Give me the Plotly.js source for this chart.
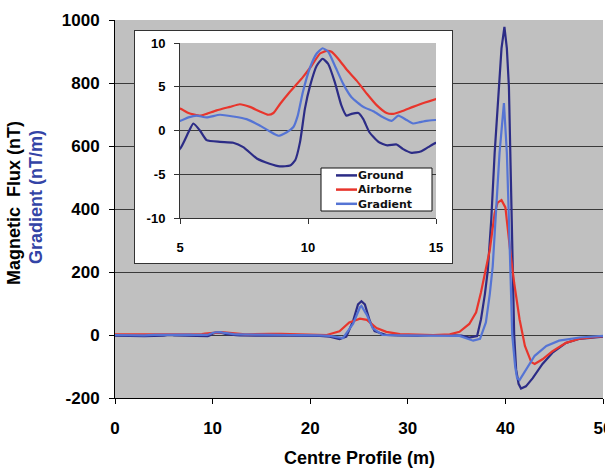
<!DOCTYPE html>
<html>
<head>
<meta charset="utf-8">
<script src="https://cdn.plot.ly/plotly-3.0.1.min.js"></script>
<style>
  html, body { margin: 0; padding: 0; background: #ffffff; }
  #chart { width: 605px; height: 469px; }
</style>
</head>
<body>
<div id="chart"></div>
<script>
// ---- Data ----
var seriesNames = ["Ground", "Airborne", "Gradient"];

var groundX = [0,1,2,3,4,4.5,5,5.33,5.52,5.78,6.04,6.56,7.08,7.47,8.0,8.5,8.9,9.3,9.5,9.69,9.88,10.08,10.34,10.57,10.79,11.05,11.3,11.5,11.7,11.97,12.16,12.4,12.75,13.1,13.46,13.7,14.05,14.4,14.7,15,16,17,18,19,20,21,22,23,23.7,24.4,24.9,25.25,25.6,26.1,26.6,27.8,29,31,33,34.5,35.5,36.3,37.1,37.5,37.9,38.2,38.55,38.9,39.34,39.6,39.9,40.15,40.36,40.5,40.62,40.75,40.9,41.1,41.35,41.6,42.1,42.8,43.8,44.8,46.2,47.6,50];
var groundY = [-2,-3,-2,-4,-3,-3,-2.1,-0.2,0.8,0,-1.1,-1.3,-1.4,-1.9,-3.2,-3.8,-4.1,-4.0,-3.4,-1.3,2.5,5.1,7.4,8.2,7.6,5.5,2.9,1.7,1.9,2.0,1.3,-0.2,-1.3,-1.7,-1.6,-2.1,-2.55,-2.4,-1.9,-1.4,-1.5,-2,-2.5,-2,-2,-3,-5,-13,-5,45,97,107,97,45,12,0,-1,-2,0,-1,-2,-8,-3,50,130,206,366,578,788,910,978,910,788,578,366,218,0,-110,-155,-170,-163,-137,-92,-57,-25,-12,-5];

var airX = [0,1,2,3,4,5,5.33,5.78,6.04,6.43,6.95,7.34,7.73,8.1,8.45,8.65,8.9,9.23,9.5,9.8,10.14,10.47,10.73,10.92,11.18,11.5,11.9,12.3,12.68,13.07,13.33,13.66,14.1,14.57,15,16,17,18,19,20,21,21.7,23,24,25.1,25.8,26.8,27.8,29.2,32.6,34.3,35.3,36.3,37.0,37.5,37.9,38.4,38.9,39.2,39.6,40.0,40.5,40.9,41.45,42.0,42.65,43.0,43.8,44.8,46.2,47.6,50];
var airY = [2,2,2.5,2,2.5,2.5,2.0,1.7,1.9,2.3,2.7,3.0,2.7,2.2,1.8,2.0,3.0,4.2,5.1,6.1,7.4,8.8,9.1,9.0,8.2,7.0,5.7,4.2,2.9,2.0,1.9,2.2,2.7,3.2,3.6,4,3.5,3,2.5,2,1,0,12,40,52,48,22,10,3,0,2,10,35,72,136,200,270,387,420,428,405,265,165,50,-35,-86,-92,-77,-52,-25,-12,-4];

var gradX = [0,1,2,3,4,5,5.33,5.65,6.04,6.56,7.08,7.6,8.1,8.5,8.84,9.17,9.43,9.6,9.8,10.08,10.34,10.57,10.79,11.05,11.38,11.7,12.16,12.55,12.94,13.27,13.53,13.85,14.1,14.37,14.63,15,16,17,18,19,20,21,22,23.35,24.4,25.1,25.25,25.8,26.4,27.4,30,33,35.3,36.7,37.4,38.0,38.4,38.7,39.0,39.4,39.85,40.15,40.36,40.5,40.7,41.0,41.2,41.45,42.1,43.0,44.2,45.5,47.6,50];
var gradY = [0,-1,0,-1,0.5,1.1,1.5,1.7,1.5,1.8,1.6,1.3,0.6,-0.1,-0.6,-0.2,0.4,1.7,4.4,7.2,8.8,9.4,9.0,7.4,5.3,3.8,2.7,2.2,1.5,1.1,1.7,1.2,0.8,0.95,1.1,1.2,0.5,0,0,-0.5,-0.5,-1,-3,-10,36,88,92,64,22,0,-1,-1,-3,-18,-12,40,130,218,366,578,736,578,366,218,0,-100,-137,-143,-111,-66,-35,-18,-8,-3];

// tick labels
var mainXTicks = [0,10,20,30,40,50];
var mainXTickText = ["0","10","20","30","40","50"];
var mainYTicks = [-200,0,200,400,600,800,1000];
var mainYTickText = ["-200","0","200","400","600","800","1000"];
var insetXTicks = [5,10,15];
var insetXTickText = ["5","10","15"];
var insetYTicks = [-10,-5,0,5,10];
var insetYTickText = ["-10","-5","0","5","10"];

var xTitle = "Centre Profile (m)";
var yTitle1 = "Magnetic  Flux (nT)";
var yTitle2 = "Gradient (nT/m)";

// ---- Styles ----
var colors = {Ground: "#2c2c86", Airborne: "#e8352c", Gradient: "#5574d4"};
var FONT = "Liberation Sans, Arial, Helvetica, sans-serif";
var LEGFONT = "DejaVu Sans, Liberation Sans, sans-serif";
var GRID = "#3a3a3a";
var BG = "#c0c0c0";

var dataSets = [
  {name: "Ground", x: groundX, y: groundY},
  {name: "Airborne", x: airX, y: airY},
  {name: "Gradient", x: gradX, y: gradY}
];

var traces = [];
dataSets.forEach(function (d) {
  traces.push({
    type: "scatter", mode: "lines", name: d.name, x: d.x, y: d.y,
    xaxis: "x", yaxis: "y", showlegend: false, hoverinfo: "skip",
    line: {color: colors[d.name], width: 2.2}
  });
});
// empty trace registering the white inset panel subplot (x2y2)
traces.push({type: "scatter", mode: "lines", x: [], y: [], xaxis: "x2", yaxis: "y2",
  showlegend: false, hoverinfo: "skip"});
dataSets.forEach(function (d) {
  traces.push({
    type: "scatter", mode: "lines", name: d.name + " (inset)", x: d.x, y: d.y,
    xaxis: "x3", yaxis: "y3", showlegend: false, hoverinfo: "skip",
    line: {color: colors[d.name], width: 2.2, shape: "spline", smoothing: 0.5}
  });
});

// pixel helpers for paper coordinates (plot area: x 115..603, y 20..398)
var L = 115, R = 603, T = 20, B = 398;
function px(x) { return (x - L) / (R - L); }
function py(y) { return (B - y) / (B - T); }

var shapes = [
  // white fill of the inset panel (drawn inside the x2y2 panel subplot)
  {type: "rect", xref: "x2", yref: "y2", layer: "below",
   x0: 0, x1: 1, y0: 0, y1: 1, fillcolor: "#ffffff", line: {width: 0}},
  // inset legend box
  {type: "rect", xref: "paper", yref: "paper", layer: "above",
   x0: px(321), x1: px(432), y0: py(211), y1: py(168),
   fillcolor: "#ffffff", line: {color: "#111111", width: 1}}
];
var legendRows = [175.4, 189.6, 203.8];
var annotations = [];
seriesNames.forEach(function (n, i) {
  shapes.push({type: "line", xref: "paper", yref: "paper", layer: "above",
    x0: px(336), x1: px(357), y0: py(legendRows[i]), y1: py(legendRows[i]),
    line: {color: colors[n], width: 2.5}});
});
annotations.push({xref: "paper", yref: "paper", x: px(356), y: py(189.6),
  xanchor: "left", yanchor: "middle", align: "left", showarrow: false,
  text: seriesNames.join("<br>"),
  font: {family: LEGFONT, size: 11, color: "#111111", weight: 700}});

annotations.push({xref: "paper", yref: "paper", x: 0.5, y: py(458),
  xanchor: "center", yanchor: "middle", showarrow: false, text: xTitle,
  font: {family: FONT, size: 18, color: "#000000", weight: 700}});
annotations.push({xref: "paper", yref: "paper", x: px(14), y: py(203),
  xanchor: "center", yanchor: "middle", showarrow: false, text: yTitle1, textangle: -90,
  font: {family: FONT, size: 18, color: "#000000", weight: 700}});
annotations.push({xref: "paper", yref: "paper", x: px(36), y: py(197),
  xanchor: "center", yanchor: "middle", showarrow: false, text: yTitle2, textangle: -90,
  font: {family: FONT, size: 18, color: "#3344a6", weight: 700}});

var hiddenAxis = {
  range: [0, 1], showgrid: false, zeroline: false, showticklabels: false, ticks: "",
  showline: true, mirror: true, linecolor: "#333333", linewidth: 1, fixedrange: true
};

var layout = {
  width: 605, height: 469,
  margin: {l: L, r: 605 - R, t: T, b: 469 - B, pad: 0},
  paper_bgcolor: "#ffffff",
  plot_bgcolor: BG,
  showlegend: false,
  font: {family: FONT, color: "#000000"},
  xaxis: {
    domain: [0, 1], range: [0, 50], anchor: "y",
    tickvals: mainXTicks, ticktext: mainXTickText,
    showgrid: false, zeroline: false, ticklabeloverflow: "allow",
    showline: true, linecolor: "#000000", linewidth: 1,
    ticks: "outside", ticklen: 5, tickcolor: "#000000", ticklabelstandoff: 10,
    tickfont: {family: FONT, size: 17, color: "#000000", weight: 700}
  },
  yaxis: {
    domain: [0, 1], range: [-200, 1000], anchor: "x",
    tickvals: mainYTicks, ticktext: mainYTickText,
    showgrid: true, gridcolor: GRID, gridwidth: 1, zeroline: false,
    showline: true, linecolor: "#000000", linewidth: 1,
    ticks: "outside", ticklen: 5, tickcolor: "#000000", ticklabelstandoff: 6,
    tickfont: {family: FONT, size: 17, color: "#000000", weight: 700}
  },
  xaxis2: Object.assign({domain: [px(135), px(452)], anchor: "y2"}, hiddenAxis),
  yaxis2: Object.assign({domain: [py(263), py(31)], anchor: "x2"}, hiddenAxis),
  xaxis3: {
    domain: [px(180), px(436)], range: [5, 15], anchor: "y3",
    tickvals: insetXTicks, ticktext: insetXTickText,
    showgrid: false, zeroline: false,
    showline: true, linecolor: "#333333", linewidth: 1,
    ticks: "outside", ticklen: 5, tickcolor: "#333333", ticklabelstandoff: 12,
    tickfont: {family: FONT, size: 13, color: "#000000", weight: 700}
  },
  yaxis3: {
    domain: [py(218), py(43)], range: [-10, 10], anchor: "x3",
    tickvals: insetYTicks, ticktext: insetYTickText,
    showgrid: true, gridcolor: GRID, gridwidth: 1, zeroline: false,
    showline: true, linecolor: "#333333", linewidth: 1,
    ticks: "outside", ticklen: 5, tickcolor: "#333333", ticklabelstandoff: 6,
    tickfont: {family: FONT, size: 13, color: "#000000", weight: 700}
  },
  shapes: shapes,
  annotations: annotations
};

Plotly.newPlot("chart", traces, layout, {displayModeBar: false, staticPlot: true});
</script>
</body>
</html>
